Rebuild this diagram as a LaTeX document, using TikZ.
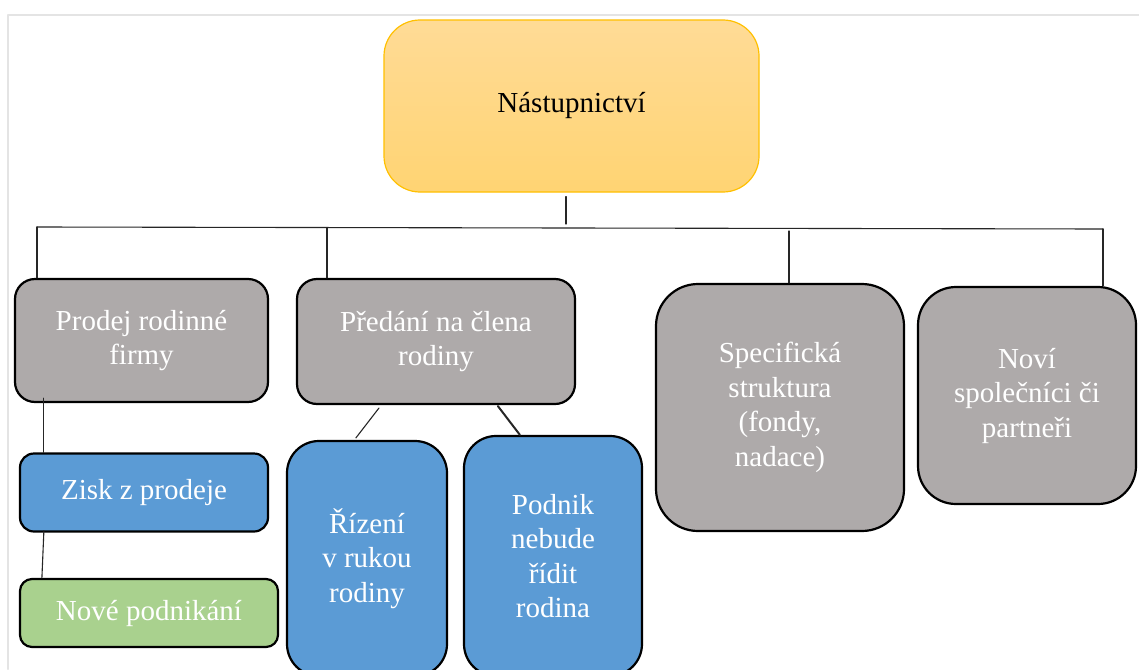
\documentclass[tikz,border=0pt]{standalone}
\usepackage{fontspec}
\IfFontExistsTF{LiberationSerif-Regular.ttf}
 {\setmainfont{LiberationSerif}[Extension=.ttf,UprightFont=*-Regular,
   BoldFont=*-Bold,ItalicFont=*-Italic,BoldItalicFont=*-BoldItalic]}
 {\setmainfont{Liberation Serif}}
\usetikzlibrary{calc}
\definecolor{succgoldtop}{RGB}{255,219,150}
\definecolor{succgoldbot}{RGB}{255,212,115}
\definecolor{succgoldline}{RGB}{255,192,0}
\definecolor{succgray}{RGB}{174,170,170}
\definecolor{succblue}{RGB}{91,155,213}
\definecolor{succgreen}{RGB}{169,209,142}
\definecolor{succframe}{RGB}{228,228,228}

\begin{document}
\begin{tikzpicture}[x=1pt,y=-1pt,line join=round,line cap=round,
  box/.style={draw=black,line width=2.2pt,align=center,inner sep=0pt,
   text=white,font=\rmfamily\fontsize{29}{34.5}\selectfont},
  graybox/.style={box,fill=succgray},
  bluebox/.style={box,fill=succblue},
  greenbox/.style={box,fill=succgreen},
  link/.style={black!85,line width=1.1pt}]
 \useasboundingbox (0,0) rectangle (1139,669);
 \fill[white] (0,0) rectangle (1139,669);
 \draw[succframe,line width=2pt] (8,669) -- (8,15) -- (1139,15);
 % root
 \node[draw=succgoldline,line width=1.2pt,rounded corners=36pt,
  top color=succgoldtop,bottom color=succgoldbot,
  minimum width=375pt,minimum height=172pt,inner sep=0pt,
  font=\rmfamily\fontsize{29}{34.5}\selectfont] (root) at (571.5,106) {Nástupnictví};
 % first level
 \node[graybox,rounded corners=20pt,minimum width=253pt,minimum height=123pt]
  (prodej) at (141.5,340.5) {Prodej rodinné\\firmy};
 \node[graybox,rounded corners=20pt,minimum width=278pt,minimum height=125pt]
  (predani) at (436,341.5) {Předání na člena\\rodiny};
 \node[graybox,rounded corners=42pt,minimum width=248pt,minimum height=247pt]
  (spec) at (780,407.5) {Specifická\\struktura\\(fondy,\\nadace)};
 \node[graybox,rounded corners=38pt,minimum width=218pt,minimum height=217pt]
  (novi) at (1027,395.5) {Noví\\společníci či\\partneři};
 % second level
 \node[bluebox,rounded corners=14pt,minimum width=248pt,minimum height=78pt]
  (zisk) at (144,492.5) {Zisk z prodeje};
 \node[greenbox,rounded corners=12pt,minimum width=258pt,minimum height=68pt]
  (nove) at (149,613) {Nové podnikání};
 \node[bluebox,rounded corners=32pt,minimum width=160pt,minimum height=235pt]
  (rizeni) at (367,558.5) {Řízení\\v rukou\\rodiny};
 \node[bluebox,rounded corners=32pt,minimum width=178pt,minimum height=240pt]
  (podnik) at (553,556) {Podnik\\nebude\\řídit\\rodina};
 % bus
 \coordinate (busL) at (37,227);
 \coordinate (busR) at (1103,229);
 \coordinate (rootdrop) at (566,224);
 \coordinate (tapB) at (327,228);
 \coordinate (tapC) at (789,231);
 \draw[link] (busL) -- (busR);
 \draw[link] ([xshift=-5.5pt,yshift=-4pt]root.south) -- (rootdrop);
 \draw[link] (busL) -- (busL |- prodej.north);
 \draw[link] (tapB) -- (tapB |- predani.north);
 \draw[link] (tapC) -- (tapC |- spec.north);
 \draw[link] (busR) -- (busR |- novi.north);
 % lower links
 \draw[link] ([xshift=30pt,yshift=5pt]prodej.south west) -- ([xshift=25pt]zisk.north west);
 \draw[link] ([xshift=25pt,yshift=2pt]zisk.south west) -- ([xshift=23pt]nove.north west);
 \draw[link] ([xshift=83pt,yshift=-3pt]predani.south west) -- ([xshift=70pt,yshift=2pt]rizeni.north west);
 \draw[link,line width=2pt] ([xshift=202pt,yshift=-1pt]predani.south west) -- ([xshift=57pt]podnik.north west);
\end{tikzpicture}
\end{document}
